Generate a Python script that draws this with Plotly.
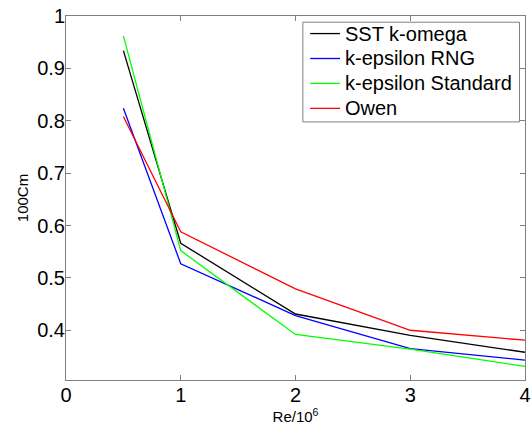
import plotly.graph_objects as go

re_vals = [0.5, 1, 2, 3, 4]
sst_k_omega = [0.934, 0.566, 0.431, 0.390, 0.358]
k_eps_rng = [0.824, 0.527, 0.428, 0.365, 0.343]
k_eps_std = [0.962, 0.552, 0.392, 0.364, 0.331]
owen = [0.808, 0.588, 0.479, 0.400, 0.381]

names = ["SST k-omega", "k-epsilon RNG", "k-epsilon Standard", "Owen"]
colors = ["#000000", "#0000ff", "#00ff00", "#ff0000"]
series = [sst_k_omega, k_eps_rng, k_eps_std, owen]

x_ticks = [0, 1, 2, 3, 4]
y_ticks = [0.4, 0.5, 0.6, 0.7, 0.8, 0.9, 1]
y_tick_text = ["0.4", "0.5", "0.6", "0.7", "0.8", "0.9", "1"]

FONT = "Liberation Sans, Arial"

fig = go.Figure()
for n, c, s in zip(names, colors, series):
    fig.add_trace(go.Scatter(x=re_vals, y=s, mode="lines", name=n,
                             line=dict(color=c, width=1.3), showlegend=False))

# MATLAB-style boxed legend (built from names/colors)
lx0, lx1, ly1, ly0 = 0.516, 0.988, 0.983, 0.709
row_h = (ly1 - ly0) / 4
fig.add_shape(type="rect", xref="paper", yref="paper", x0=lx0, x1=lx1, y0=ly0, y1=ly1,
              line=dict(color="#808080", width=1), fillcolor="white", layer="above")
for i, (n, c) in enumerate(zip(names, colors)):
    yc = ly1 - row_h * (i + 0.5) + 0.003
    fig.add_shape(type="line", xref="paper", yref="paper", x0=0.532, x1=0.597, y0=yc, y1=yc,
                  line=dict(color=c, width=1.3), layer="above")
    fig.add_annotation(xref="paper", yref="paper", x=0.603, y=yc, text=n, showarrow=False,
                       xanchor="left", yanchor="middle",
                       font=dict(family=FONT, size=20, color="#000"))

axis_common = dict(showline=True, linecolor="#808080", linewidth=1, mirror="ticks",
                   ticks="inside", ticklen=5, tickcolor="#808080", showgrid=False,
                   zeroline=False, automargin=False, ticklabeloverflow="allow",
                   tickfont=dict(family=FONT, size=20, color="#000000"))

fig.update_layout(
    width=531, height=428,
    margin=dict(l=66, r=6, t=16, b=48),
    paper_bgcolor="white", plot_bgcolor="white",
    xaxis=dict(range=[0, 4], tickvals=x_ticks, ticklabelstandoff=-3,
               title=dict(text="Re/10<sup>6</sup>", font=dict(family=FONT, size=15, color="#000"), standoff=0),
               **axis_common),
    yaxis=dict(range=[0.305, 1], tickvals=y_ticks, ticktext=y_tick_text, ticklabelstandoff=-4,
               title=dict(text="100Cm", font=dict(family=FONT, size=15, color="#000"), standoff=4),
               **axis_common),
    showlegend=False,
)

fig.write_html("out.html", config={"displayModeBar": False},
               post_script="document.body.style.margin='0';")
